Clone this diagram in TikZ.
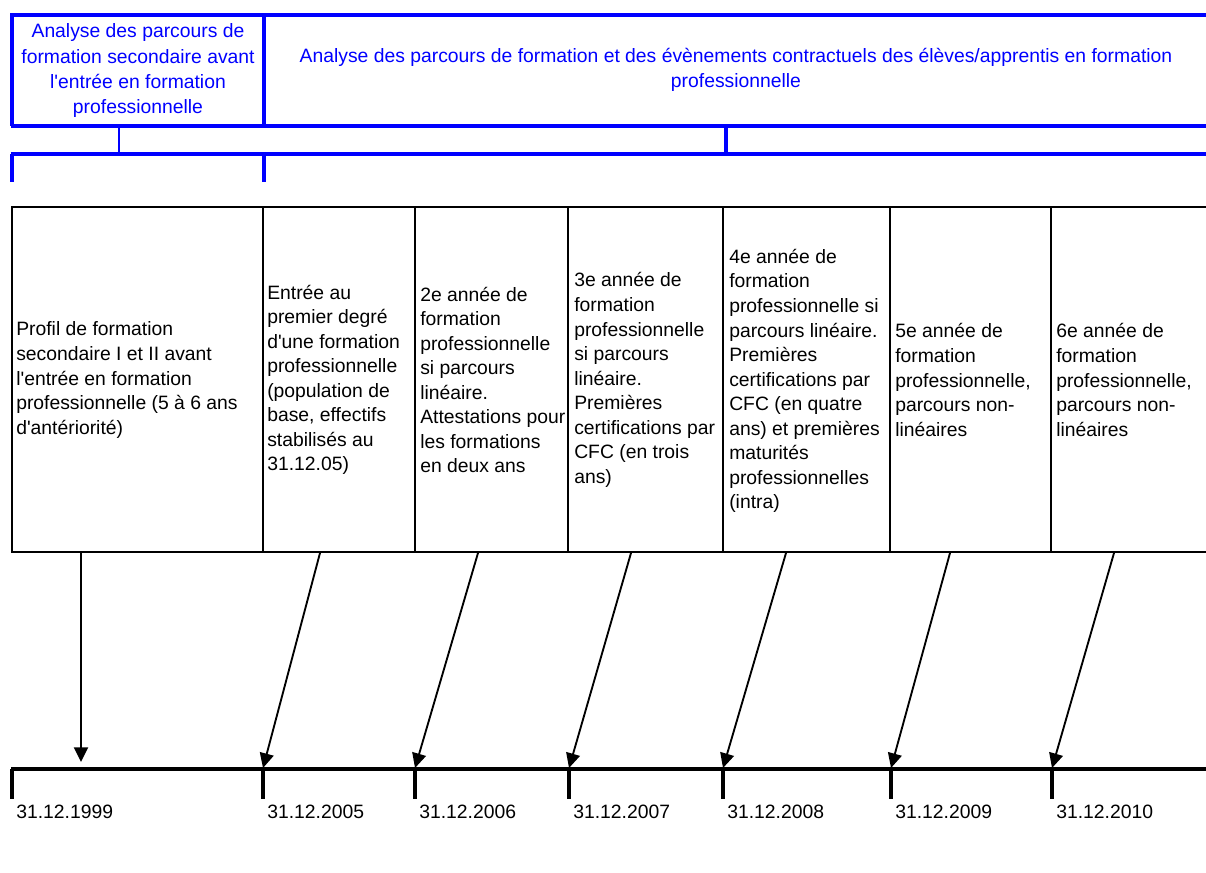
\documentclass[tikz,border=0pt]{standalone}
\usepackage{fontspec}
\newfontfamily\arialf{Liberation Sans}
\usetikzlibrary{arrows.meta}
\definecolor{hblue}{RGB}{0,0,255}
\begin{document}
\begin{tikzpicture}[x=0.75pt,y=-0.75pt,
 blueline/.style={draw=hblue,line width=2.8pt},
 thinblue/.style={draw=hblue,line width=2pt},
 gridline/.style={draw=black,line width=2.2pt},
 axisline/.style={draw=black,line width=2.5pt},
 tickline/.style={draw=black,line width=2.3pt},
 arrowline/.style={draw=black,line width=1.4pt,-{Triangle[length=11pt,width=10.5pt]}},
 hdrtext/.style={font=\arialf\fontsize{14.5pt}{19pt}\selectfont,text=hblue,align=center,inner sep=0pt},
 celltext/.style={font=\arialf\fontsize{14.5pt}{18.4pt}\selectfont,align=left,inner sep=0pt,anchor=west},
 datetext/.style={font=\arialf\fontsize{14.5pt}{17pt}\selectfont,inner sep=0pt,anchor=west},
]
\useasboundingbox (0,0) rectangle (1206,873);

% ---- blue header ----
\draw[blueline] (12,15) -- (1206,15);
\draw[blueline] (12,13.5) -- (12,126);
\draw[blueline] (264,15) -- (264,126);
\draw[blueline] (10.5,126) -- (1206,126);
\draw[thinblue] (119,126) -- (119,154);
\draw[blueline] (726,126) -- (726,154);
\draw[blueline] (10.5,154) -- (1206,154);
\draw[blueline] (12,154) -- (12,182);
\draw[blueline] (264,154) -- (264,182);

\node[hdrtext] (h1) at (138,71) {Analyse des parcours de\\formation secondaire avant\\l'entrée en formation\\professionnelle};
\node[hdrtext] (h2) at (736,70) {Analyse des parcours de formation et des évènements contractuels des élèves/apprentis en formation\\professionnelle};

% ---- table ----
\draw[gridline] (11,207) -- (1206,207);
\draw[gridline] (11,552) -- (1206,552);
\foreach \x in {12,263,415,568,723,890,1051}
  \draw[gridline] (\x,207) -- (\x,552);

\node[celltext] (c1) at (16,380) {Profil de formation\\secondaire I et II avant\\l'entrée en formation\\professionnelle (5 à 6 ans\\d'antériorité)};
\node[celltext] (c2) at (267,380) {Entrée au\\premier degré\\d'une formation\\professionnelle\\(population de\\base, effectifs\\stabilisés au\\31.12.05)};
\node[celltext] (c3) at (420,380) {2e année de\\formation\\professionnelle\\si parcours\\linéaire.\\Attestations pour\\les formations\\en deux ans};
\node[celltext] (c4) at (574,380) {3e année de\\formation\\professionnelle\\si parcours\\linéaire.\\Premières\\certifications par\\CFC (en trois\\ans)};
\node[celltext] (c5) at (729,381) {4e année de\\formation\\professionnelle si\\parcours linéaire.\\Premières\\certifications par\\CFC (en quatre\\ans) et premières\\maturités\\professionnelles\\(intra)};
\node[celltext] (c6) at (895,380) {5e année de\\formation\\professionnelle,\\parcours non-\\linéaires};
\node[celltext] (c7) at (1056,380) {6e année de\\formation\\professionnelle,\\parcours non-\\linéaires};

% ---- timeline ----
\draw[axisline] (11,769) -- (1206,769);
\foreach \x/\n in {12/t1,263/t2,415/t3,569/t4,723/t5,891/t6,1052/t7}{
  \coordinate (\n) at (\x,768);
  \draw[tickline] (\x,769) -- (\x,799);
}

\node[datetext] (d1) at (16,812) {31.12.1999};
\node[datetext] (d2) at (267,812) {31.12.2005};
\node[datetext] (d3) at (419,812) {31.12.2006};
\node[datetext] (d4) at (573,812) {31.12.2007};
\node[datetext] (d5) at (727,812) {31.12.2008};
\node[datetext] (d6) at (895,812) {31.12.2009};
\node[datetext] (d7) at (1056,812) {31.12.2010};

% ---- arrows ----
\coordinate (s1) at (81,553);
\coordinate (e1) at (81,762);
\coordinate (s2) at (320,553);
\coordinate (s3) at (478,553);
\coordinate (s4) at (631,553);
\coordinate (s5) at (786,553);
\coordinate (s6) at (950,553);
\coordinate (s7) at (1114,553);
\draw[arrowline] (s1) -- (e1);
\draw[arrowline] (s2) -- (t2);
\draw[arrowline] (s3) -- (t3);
\draw[arrowline] (s4) -- (t4);
\draw[arrowline] (s5) -- (t5);
\draw[arrowline] (s6) -- (t6);
\draw[arrowline] (s7) -- (t7);
\end{tikzpicture}
\end{document}
